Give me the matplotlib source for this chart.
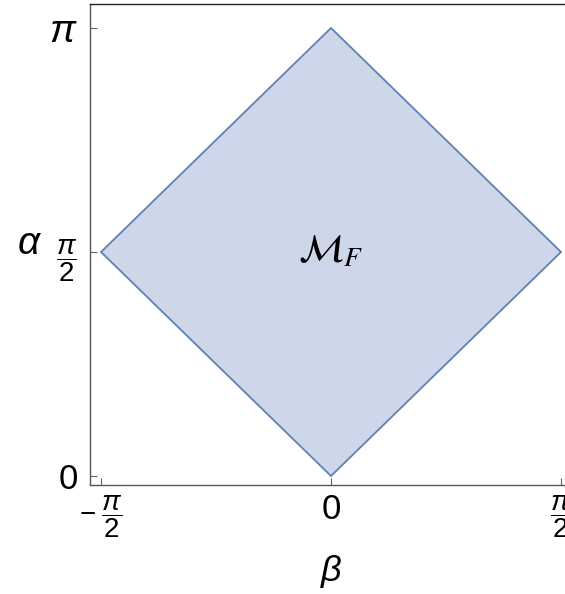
import numpy as np
import matplotlib
matplotlib.use("Agg")
import matplotlib.pyplot as plt

plt.rcParams['mathtext.fontset'] = 'custom'
plt.rcParams['mathtext.rm'] = 'Liberation Sans'
plt.rcParams['mathtext.it'] = 'Liberation Sans:italic'
plt.rcParams['font.family'] = 'Liberation Sans'

# vertices of the region M_F in the (beta, alpha) plane
beta_pts = [-np.pi / 2, 0.0, np.pi / 2, 0.0]
alpha_pts = [np.pi / 2, np.pi, np.pi / 2, 0.0]

x_ticks = [-np.pi / 2, 0.0, np.pi / 2]
x_labels = [r'$-\;\dfrac{\pi}{2}$', '0', r'$\dfrac{\pi}{2}$']
y_ticks = [0.0, np.pi / 2, np.pi]
y_labels = ['0', r'$\dfrac{\pi}{2}$', r'$\pi$']

edge_col = '#5E81B5'
fill_col = '#CDD7E9'

fig = plt.figure(figsize=(5.65, 5.94), dpi=100)
ax = fig.add_axes([90 / 565, 109 / 594, 482 / 565, 481 / 594])

ax.fill(beta_pts, alpha_pts, facecolor=fill_col, edgecolor=edge_col, linewidth=1.3)

sx = np.pi / 460
sy = np.pi / 448
ax.set_xlim(-np.pi / 2 - 11 * sx, np.pi / 2 + 11 * sx)
ax.set_ylim(-9 * sy, np.pi + 24 * sy)

ax.set_xticks(x_ticks)
ax.set_xticklabels(x_labels, fontsize=20)
ax.set_yticks(y_ticks)
ax.set_yticklabels(y_labels, fontsize=20)
ax.get_yticklabels()[2].set_fontsize(28)
ax.get_yticklabels()[0].set_fontsize(25)
ax.get_xticklabels()[1].set_fontsize(25)
ax.tick_params(direction='in', length=5, width=0.8, color='#666666', pad=6)
ax.tick_params(axis='y', pad=9)
ax.tick_params(top=False, right=False)

for side in ['left', 'bottom']:
    ax.spines[side].set_color('#555555')
for side in ['top', 'right']:
    ax.spines[side].set_color('#222222')
for sp in ax.spines.values():
    sp.set_linewidth(1.0)

ax.set_xlabel(r'$\beta$', fontsize=26, labelpad=9)
ax.set_ylabel(r'$\alpha$', fontsize=28, rotation=0, labelpad=14, va='center')

ax.text(0.0, np.pi / 2, r'$\mathcal{M}_F$', fontsize=28, ha='center', va='center',
        math_fontfamily='stix')

fig.savefig('out.png', dpi=100)
